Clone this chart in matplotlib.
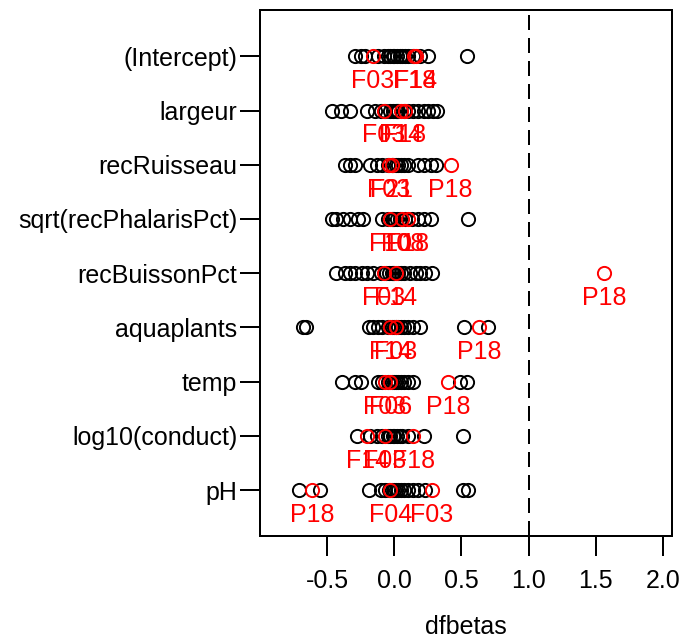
import numpy as np
import matplotlib
matplotlib.use("Agg")
import matplotlib.pyplot as plt

plt.rcParams['font.family'] = ['Liberation Sans', 'DejaVu Sans']
plt.rcParams['axes.unicode_minus'] = False

terms = ['(Intercept)', 'largeur', 'recRuisseau', 'sqrt(recPhalarisPct)',
         'recBuissonPct', 'aquaplants', 'temp', 'log10(conduct)', 'pH']

# dfbetas of the ordinary observations (black)
black_vals = [
    [-0.29, -0.25, -0.22, -0.12, -0.08, -0.05, -0.03, -0.01, 0.0, 0.02, 0.04, 0.06, 0.08, 0.10, 0.14, 0.19, 0.25, 0.54],
    [-0.46, -0.40, -0.33, -0.20, -0.14, -0.10, -0.07, -0.03, -0.01, 0.01, 0.02, 0.03, 0.07, 0.10, 0.14, 0.18, 0.22, 0.25, 0.29, 0.32],
    [-0.37, -0.33, -0.29, -0.18, -0.13, -0.09, -0.05, -0.02, -0.01, 0.01, 0.03, 0.05, 0.07, 0.10, 0.18, 0.22, 0.27, 0.31],
    [-0.46, -0.43, -0.38, -0.33, -0.27, -0.23, -0.09, -0.05, -0.02, -0.01, 0.0, 0.02, 0.04, 0.08, 0.13, 0.18, 0.22, 0.27, 0.55],
    [-0.43, -0.37, -0.33, -0.29, -0.24, -0.20, -0.16, -0.10, -0.06, -0.04, -0.02, -0.01, 0.0, 0.03, 0.05, 0.07, 0.12, 0.16, 0.19, 0.23, 0.28],
    [-0.68, -0.66, -0.19, -0.16, -0.12, -0.09, -0.05, -0.02, 0.0, 0.01, 0.03, 0.05, 0.07, 0.10, 0.14, 0.19, 0.52, 0.70],
    [-0.39, -0.29, -0.25, -0.12, -0.09, -0.05, -0.02, 0.0, 0.01, 0.03, 0.05, 0.07, 0.10, 0.14, 0.49, 0.54],
    [-0.28, -0.18, -0.13, -0.09, -0.05, -0.03, -0.01, 0.0, 0.02, 0.04, 0.06, 0.10, 0.22, 0.51],
    [-0.71, -0.55, -0.19, -0.10, -0.07, -0.04, -0.02, 0.0, 0.01, 0.03, 0.05, 0.07, 0.10, 0.14, 0.18, 0.23, 0.51, 0.55],
]

# influential observations (red) with their labels
red_vals = [
    [-0.16, 0.16, 0.15],
    [-0.08, 0.05, 0.08],
    [-0.04, -0.02, 0.42],
    [-0.03, 0.06, 0.10],
    [-0.08, 0.01, 1.56],
    [-0.03, 0.01, 0.63],
    [-0.07, -0.03, 0.40],
    [-0.20, -0.07, 0.14],
    [-0.61, -0.03, 0.28],
]
red_labels = [
    ['F03', 'F14', 'F18'],
    ['F03', 'F14', 'F18'],
    ['F03', 'F21', 'P18'],
    ['F10', 'F08', 'F18'],
    ['F03', 'F14', 'P18'],
    ['F14', 'F03', 'P18'],
    ['F03', 'F06', 'P18'],
    ['F14', 'F03', 'F18'],
    ['P18', 'F04', 'F03'],
]

fig = plt.figure(figsize=(6.9, 6.39), dpi=100)
ax = fig.add_axes([0.377, 0.161, 0.597, 0.823])

rows = np.arange(1, len(terms) + 1)
for i, r in enumerate(rows):
    ax.plot(black_vals[i], [r] * len(black_vals[i]), 'o', mfc='none', mec='black',
            ms=9.5, mew=1.4, ls='none')
    ax.plot(red_vals[i], [r] * len(red_vals[i]), 'o', mfc='none', mec='red',
            ms=9.5, mew=1.4, ls='none')
    for v, lab in zip(red_vals[i], red_labels[i]):
        ax.annotate(lab, (v, r), xytext=(0, -23), textcoords='offset points',
                    ha='center', va='baseline', color='red', fontsize=18)

ax.axvline(1.0, color='black', lw=1.44, ls=(0, (7.5, 4)))

ax.set_xlim(-0.998, 2.067)
ax.set_ylim(9.85, 0.15)
ax.set_yticks(rows)
ax.set_yticklabels(terms)
ax.set_xticks([-0.5, 0.0, 0.5, 1.0, 1.5, 2.0])
ax.set_xticklabels(['-0.5', '0.0', '0.5', '1.0', '1.5', '2.0'])
ax.tick_params(axis='both', labelsize=18, length=14.4, width=1.44, direction='out')
ax.tick_params(axis='x', pad=9)
ax.tick_params(axis='y', pad=2)
for s in ax.spines.values():
    s.set_linewidth(1.44)
ax.set_xlabel('dfbetas', fontsize=18, labelpad=16)

fig.savefig('out.png', dpi=100)
